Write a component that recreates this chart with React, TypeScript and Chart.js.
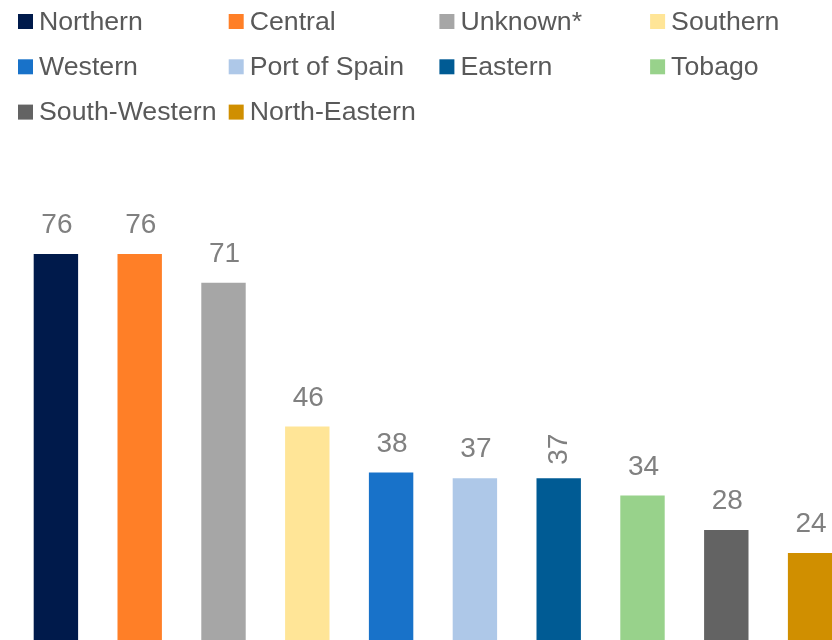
import React, { useEffect, useRef } from "react";
import { Chart, registerables } from "chart.js";

Chart.register(...registerables);

const categories = [
  "Northern",
  "Central",
  "Unknown*",
  "Southern",
  "Western",
  "Port of Spain",
  "Eastern",
  "Tobago",
  "South-Western",
  "North-Eastern",
];
const values = [76, 76, 71, 46, 38, 37, 37, 34, 28, 24];
const colors = [
  "#001a4b",
  "#ff7f27",
  "#a6a6a6",
  "#ffe597",
  "#1872c9",
  "#aec8e8",
  "#005b94",
  "#98d28b",
  "#636363",
  "#d08f00",
];
const rotatedLabels = [false, false, false, false, false, false, true, false, false, false];

const FONT = "'Liberation Sans', Arial, sans-serif";

const legendPlugin = {
  id: "gridLegend",
  afterDraw(chart: any) {
    const ctx = chart.ctx;
    const labels = chart.data.labels as string[];
    const bg = chart.data.datasets[0].backgroundColor as string[];
    ctx.save();
    ctx.font = `26.7px ${FONT}`;
    ctx.textBaseline = "middle";
    ctx.textAlign = "left";
    labels.forEach((lab, i) => {
      const col = i % 4;
      const row = Math.floor(i / 4);
      const x = 18 + col * 210.7;
      const cy = 21.5 + row * 45.3;
      ctx.fillStyle = bg[i];
      ctx.fillRect(x, cy - 7.5, 15, 15);
      ctx.fillStyle = "#595959";
      ctx.fillText(lab, x + 21, cy + 1);
    });
    ctx.restore();
  },
};

const labelPlugin = {
  id: "barLabels",
  afterDatasetsDraw(chart: any) {
    const ctx = chart.ctx;
    const meta = chart.getDatasetMeta(0);
    const data = chart.data.datasets[0].data as number[];
    ctx.save();
    ctx.font = `28px ${FONT}`;
    ctx.fillStyle = "#808080";
    meta.data.forEach((bar: any, i: number) => {
      const txt = String(data[i]);
      if (rotatedLabels[i]) {
        ctx.save();
        ctx.translate(bar.x + 1, bar.y - 29);
        ctx.rotate(-Math.PI / 2);
        ctx.textAlign = "center";
        ctx.textBaseline = "middle";
        ctx.fillText(txt, 0, 0);
        ctx.restore();
      } else {
        ctx.textAlign = "center";
        ctx.textBaseline = "alphabetic";
        ctx.fillText(txt, bar.x + 1, bar.y - 21);
      }
    });
    ctx.restore();
  },
};

export default function App() {
  const ref = useRef<HTMLCanvasElement | null>(null);
  useEffect(() => {
    if (!ref.current) return;
    const chart = new Chart(ref.current, {
      type: "bar",
      data: {
        labels: categories,
        datasets: [
          {
            data: values,
            backgroundColor: colors,
            borderWidth: 0,
            barPercentage: 0.53,
            categoryPercentage: 1,
          },
        ],
      },
      options: {
        responsive: false,
        animation: false,
        devicePixelRatio: 1,
        layout: { padding: { left: 14, right: 8, top: 116, bottom: 9 } },
        plugins: {
          legend: { display: false },
          tooltip: { enabled: false },
        },
        scales: {
          x: { display: false },
          y: { display: false, min: 0, max: 100 },
        },
      },
      plugins: [legendPlugin, labelPlugin],
    });
    return () => chart.destroy();
  }, []);
  return (
    <div
      style={{
        position: "fixed",
        left: 0,
        top: 0,
        width: 832,
        height: 640,
        overflow: "hidden",
        background: "#fff",
      }}
    >
      <canvas ref={ref} width={860} height={700} style={{ width: 860, height: 700 }} />
    </div>
  );
}
